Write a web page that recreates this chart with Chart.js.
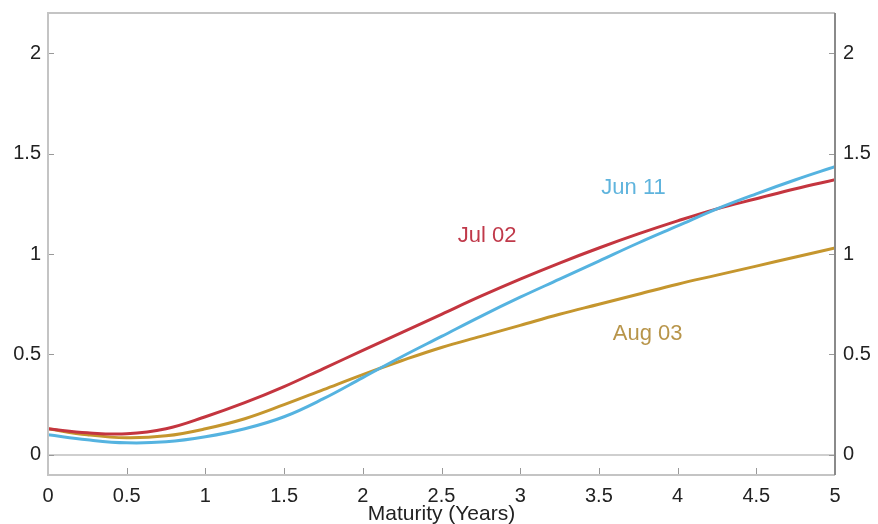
<!DOCTYPE html>
<html>
<head>
<meta charset="utf-8">
<script src="https://cdn.jsdelivr.net/npm/chart.js@4.4.1/dist/chart.umd.min.js"></script>
<style>
  html, body { margin: 0; padding: 0; background: #fff; }
  #wrap { width: 878px; height: 524px; }
</style>
</head>
<body>
<div id="wrap"><canvas id="curves"></canvas></div>
<script>
// maturity grid (years)
const maturities = [0, 0.25, 0.5, 0.75, 1, 1.25, 1.5, 1.75, 2, 2.25, 2.5, 2.75, 3, 3.25, 3.5, 3.75, 4, 4.25, 4.5, 4.75, 5];
// curves
const jun11 = [0.10, 0.075, 0.06, 0.065, 0.09, 0.13, 0.19, 0.28, 0.385, 0.49, 0.59, 0.69, 0.785, 0.875, 0.965, 1.055, 1.14, 1.225, 1.30, 1.37, 1.435];
const jul02 = [0.13, 0.11, 0.105, 0.13, 0.19, 0.26, 0.34, 0.43, 0.52, 0.61, 0.70, 0.79, 0.875, 0.955, 1.03, 1.10, 1.165, 1.225, 1.275, 1.325, 1.37];
const aug03 = [0.13, 0.10, 0.085, 0.095, 0.13, 0.18, 0.25, 0.325, 0.40, 0.47, 0.535, 0.59, 0.645, 0.70, 0.75, 0.80, 0.85, 0.895, 0.94, 0.985, 1.03];

const xTicks = [0, 0.5, 1, 1.5, 2, 2.5, 3, 3.5, 4, 4.5, 5];
const yTicks = [0, 0.5, 1, 1.5, 2];

// text labels placed next to the curves: [text, x, y, colour]
const curveLabels = [
  ["Jun 11", 3.72, 1.33, "#5fb4dd"],
  ["Jul 02", 2.79, 1.09, "#c0394a"],
  ["Aug 03", 3.81, 0.6, "#b8954a"]
];

const FONT = "'Liberation Sans', Arial, sans-serif";

function toPoints(values) {
  return maturities.map((m, i) => ({ x: m, y: values[i] }));
}

// frame, inward ticks and curve labels
const decorations = {
  id: "decorations",
  afterDraw(chart) {
    const { ctx, chartArea: a, scales } = chart;
    ctx.save();
    // inward tick marks
    ctx.strokeStyle = "#999";
    ctx.lineWidth = 1;
    xTicks.forEach((t) => {
      const px = Math.round(scales.x.getPixelForValue(t)) + 0.5;
      ctx.beginPath();
      ctx.moveTo(px, a.bottom);
      ctx.lineTo(px, a.bottom - 7);
      ctx.stroke();
    });
    yTicks.forEach((t) => {
      const py = Math.round(scales.y.getPixelForValue(t)) + 0.5;
      ctx.beginPath();
      ctx.moveTo(a.left, py);
      ctx.lineTo(a.left + 6, py);
      ctx.moveTo(a.right, py);
      ctx.lineTo(a.right - 6, py);
      ctx.stroke();
    });
    // box
    ctx.lineWidth = 2;
    ctx.strokeStyle = "#c4c4c4";
    ctx.beginPath();
    ctx.moveTo(a.right, a.top);
    ctx.lineTo(a.left, a.top);
    ctx.lineTo(a.left, a.bottom);
    ctx.lineTo(a.right, a.bottom);
    ctx.stroke();
    ctx.strokeStyle = "#8a8a8a";
    ctx.beginPath();
    ctx.moveTo(a.right, a.top);
    ctx.lineTo(a.right, a.bottom);
    ctx.stroke();
    // curve labels
    ctx.font = "22px " + FONT;
    ctx.textAlign = "center";
    ctx.textBaseline = "middle";
    curveLabels.forEach(([text, x, y, color]) => {
      ctx.fillStyle = color;
      ctx.fillText(text, scales.x.getPixelForValue(x), scales.y.getPixelForValue(y));
    });
    ctx.restore();
  }
};

const fmt = (v) => String(v);
const fitY = (width) => (s) => { s.width = width; s.paddingTop = 0; s.paddingBottom = 0; };

const ctx = document.getElementById("curves").getContext("2d");
const curveChart = new Chart(ctx, {
  type: "line",
  data: {
    datasets: [
      { label: "Jun 11", data: toPoints(jun11), borderColor: "#55b3e0" },
      { label: "Jul 02", data: toPoints(jul02), borderColor: "#c4353f" },
      { label: "Aug 03", data: toPoints(aug03), borderColor: "#c5962e" }
    ].map((d) => Object.assign(d, { borderWidth: 3, pointRadius: 0, tension: 0.4, fill: false }))
  },
  options: {
    responsive: true,
    maintainAspectRatio: false,
    animation: false,
    layout: { padding: { top: 13, left: 0, right: 0, bottom: 0 } },
    plugins: { legend: { display: false }, tooltip: { enabled: false } },
    scales: {
      x: {
        type: "linear",
        min: 0,
        max: 5,
        afterBuildTicks: (s) => { s.ticks = xTicks.map((v) => ({ value: v })); },
        afterFit: (s) => { s.height = 49; },
        grid: { display: false, drawTicks: false },
        border: { display: false },
        ticks: { padding: 9, color: "#222", font: { family: FONT, size: 20 }, maxRotation: 0, callback: fmt },
        title: { display: true, text: "Maturity (Years)", color: "#222", font: { family: FONT, size: 21 }, padding: { top: 0, bottom: -3 } }
      },
      y: {
        position: "left",
        min: -0.1,
        max: 2.2,
        afterBuildTicks: (s) => { s.ticks = yTicks.map((v) => ({ value: v })); },
        afterFit: fitY(48),
        grid: {
          drawTicks: false,
          color: (c) => (c.tick && c.tick.value === 0 ? "#cfcfcf" : "rgba(0,0,0,0)"),
          lineWidth: 2
        },
        border: { display: false },
        ticks: { padding: 7, color: "#222", font: { family: FONT, size: 20 }, callback: fmt }
      },
      y2: {
        position: "right",
        min: -0.1,
        max: 2.2,
        afterBuildTicks: (s) => { s.ticks = yTicks.map((v) => ({ value: v })); },
        afterFit: fitY(43),
        grid: { display: false, drawTicks: false },
        border: { display: false },
        ticks: { padding: 8, color: "#222", font: { family: FONT, size: 20 }, callback: fmt }
      }
    }
  },
  plugins: [decorations]
});
</script>
</body>
</html>
